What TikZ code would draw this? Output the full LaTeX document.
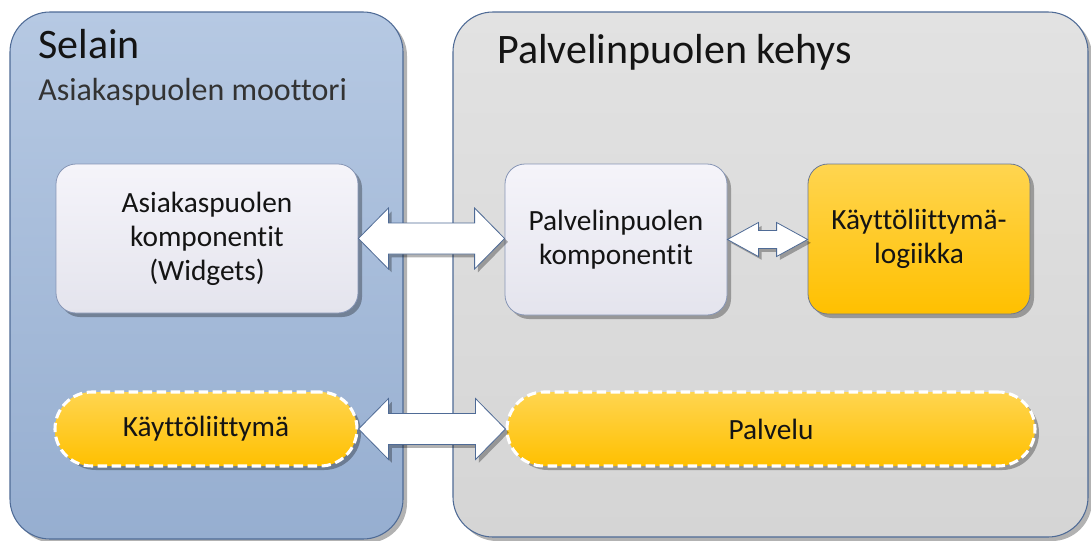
\documentclass[tikz,border=0pt]{standalone}
\usepackage{fontspec}
\setmainfont{Carlito}[Ligatures=NoCommon]
\usetikzlibrary{shadows,calc}

\definecolor{browserTop}{RGB}{182,201,227}
\definecolor{browserBot}{RGB}{150,174,208}
\definecolor{frameLine}{RGB}{79,107,150}
\definecolor{serverTop}{RGB}{226,226,226}
\definecolor{serverBot}{RGB}{213,213,213}
\definecolor{compTop}{RGB}{245,244,250}
\definecolor{compBot}{RGB}{228,228,237}
\definecolor{compLine}{RGB}{135,150,182}
\definecolor{goldTop}{RGB}{255,213,80}
\definecolor{goldBot}{RGB}{255,192,0}
\definecolor{textDark}{RGB}{20,20,20}

\tikzset{
  softshadow/.style={drop shadow={shadow xshift=3pt, shadow yshift=-3pt, fill=black, opacity=0.3}},
  panelbrowser/.style={rounded corners=30pt, draw=frameLine, line width=0.8pt,
    top color=browserTop, bottom color=browserBot, softshadow},
  panelserver/.style={rounded corners=30pt, draw=frameLine, line width=0.8pt,
    top color=serverTop, bottom color=serverBot, softshadow},
  compbox/.style={rounded corners=15pt, draw=compLine, line width=0.6pt,
    top color=compTop, bottom color=compBot, softshadow, align=center,
    font=\fontsize{22}{25.5}\selectfont, text=textDark},
  logicbox/.style={compbox, draw=compLine!80!black, top color=goldTop, bottom color=goldBot},
  dashbox/.style={rounded corners=27.7pt, draw=white, line width=2.3pt,
    dash pattern=on 7pt off 3.5pt, top color=goldTop, bottom color=goldBot,
    softshadow, align=center, font=\fontsize{22}{25.5}\selectfont, text=textDark},
  blockarrow/.style={draw=frameLine, line width=0.6pt, fill=white, line join=miter,
    drop shadow={shadow xshift=2.5pt, shadow yshift=-2.5pt, fill=black, opacity=0.3}},
  titletext/.style={anchor=base west, inner sep=0pt, font=\fontsize{31.5}{36}\selectfont, text=textDark},
  subtitletext/.style={anchor=base west, inner sep=0pt, font=\fontsize{24}{28}\selectfont, text=black!80}
}

% double-headed block arrow: [style]{from}{to}{shaft half width}{head half width}{head length}
\newcommand\blockarrow[6][]{%
  \draw[blockarrow,#1] (#2) -- ($(#2)+(#6,-#5)$) -- ($(#2)+(#6,-#4)$)
    -- ($(#3)+(-#6,-#4)$) -- ($(#3)+(-#6,-#5)$) -- (#3)
    -- ($(#3)+(-#6,#5)$) -- ($(#3)+(-#6,#4)$)
    -- ($(#2)+(#6,#4)$) -- ($(#2)+(#6,#5)$) -- cycle;}

\begin{document}
\begin{tikzpicture}[x=0.75pt,y=-0.75pt]
\useasboundingbox[fill=white] (0,0) rectangle (1091,540);

% frames
\node[panelbrowser, minimum width=294.75pt, minimum height=395.25pt] (browser) at (206.5,275.5) {};
\node[panelserver, minimum width=476.25pt, minimum height=393.75pt] (server) at (770.5,274.5) {};

% frame titles
\node[titletext] (selain) at (38,58) {Selain};
\node[subtitletext] (engine) at (38,100) {Asiakaspuolen moottori};
\node[titletext] (kehys) at (497,63) {Palvelinpuolen kehys};

% components
\node[compbox, minimum width=226.5pt, minimum height=111.75pt] (client) at (207,238.5)
  {Asiakaspuolen\\komponentit\\(Widgets)};
\node[compbox, minimum width=166.5pt, minimum height=113.25pt] (servercomp) at (616,239.5)
  {Palvelinpuolen\\komponentit};
\node[logicbox, minimum width=166.5pt, minimum height=112.5pt] (logic) at (919,239)
  {Käyttöliittymä-\\logiikka};

\node[dashbox, minimum width=226.5pt, minimum height=55.5pt] (ui) at (206,429) {Käyttöliittymä};
\node[dashbox, minimum width=396pt, minimum height=55.5pt] (service) at (771,429) {Palvelu};

% connectors
\coordinate (a1r) at (client.east -| servercomp.west);
\coordinate (a2r) at (ui.east -| service.west);
\coordinate (a3r) at (servercomp.east -| logic.west);
\blockarrow{client.east}{a1r}{15.5}{30.5}{30}
\blockarrow{ui.east}{a2r}{15.5}{30.5}{30}
\blockarrow{servercomp.east}{a3r}{9}{17}{31}
\end{tikzpicture}
\end{document}
